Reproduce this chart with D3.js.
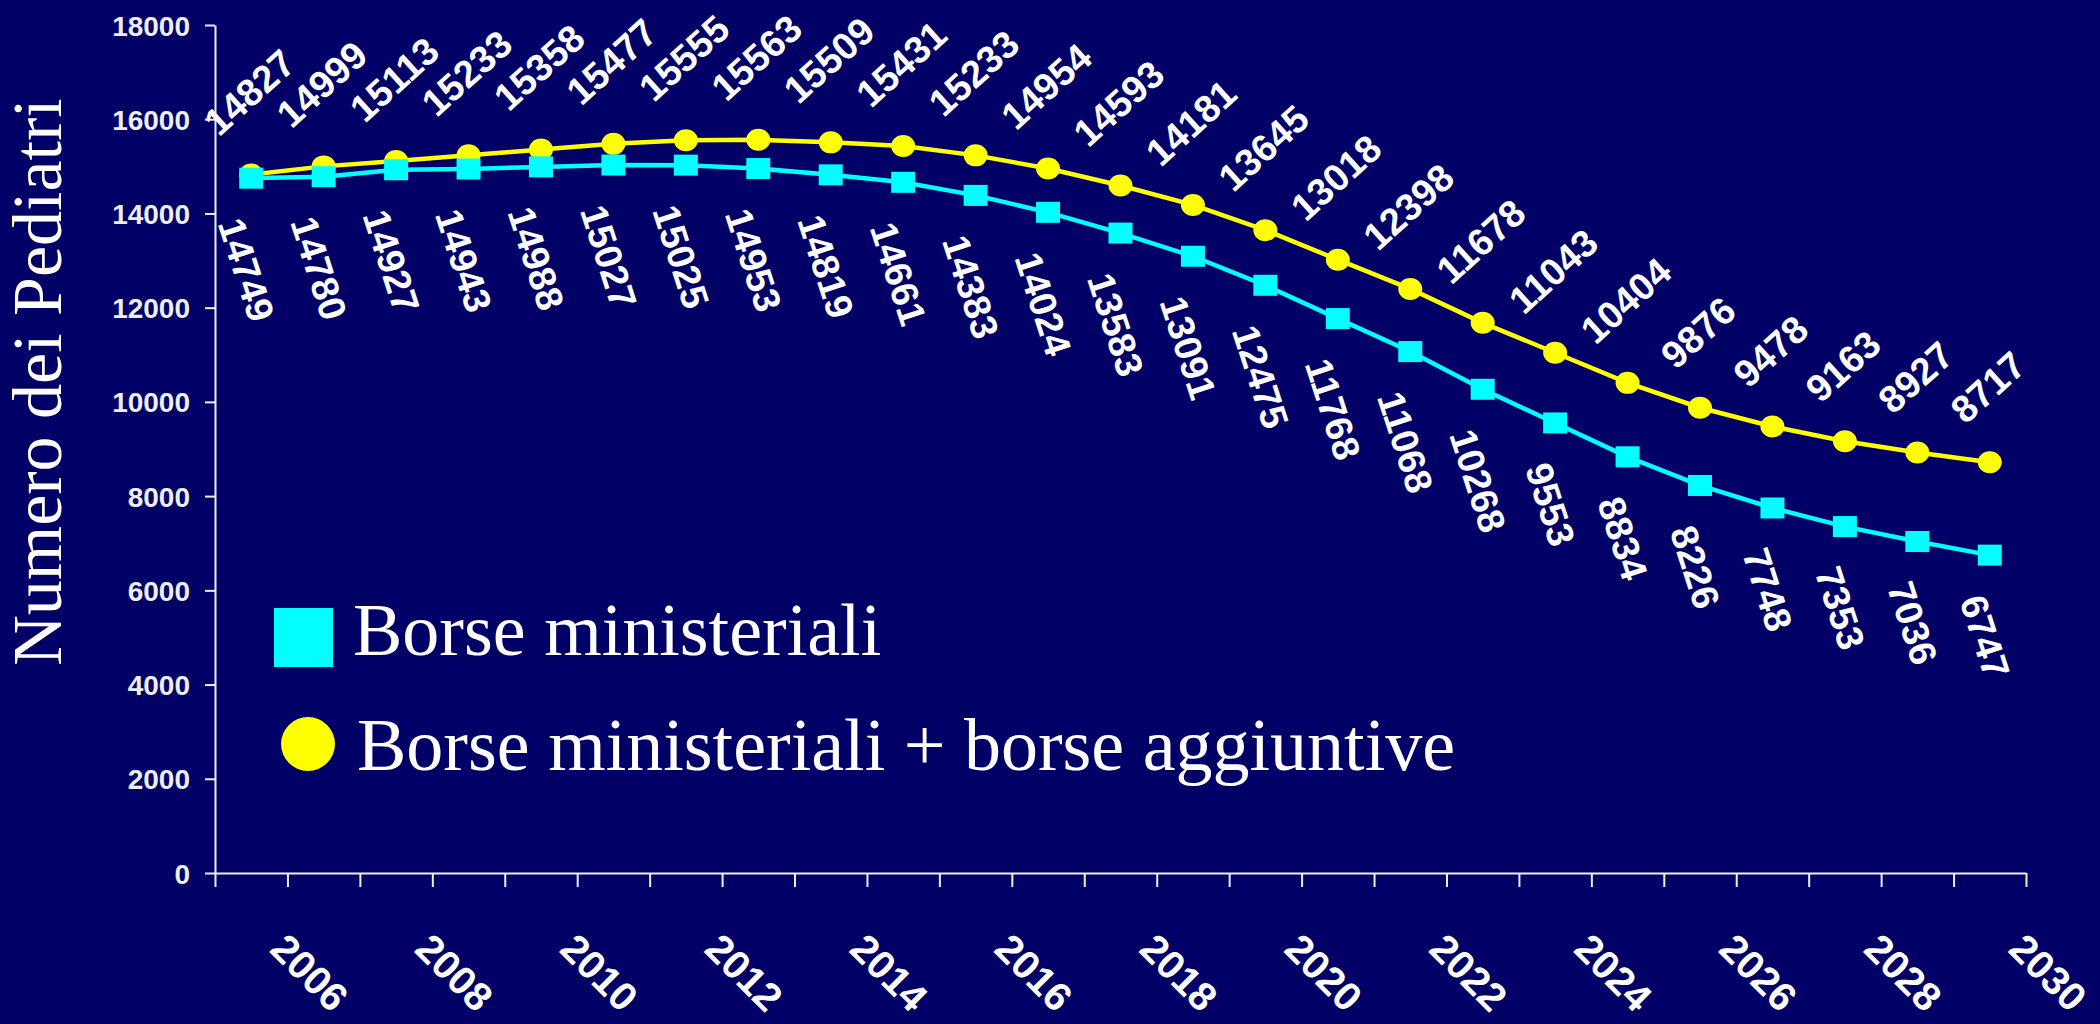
<!DOCTYPE html>
<html>
<head>
<meta charset="utf-8">
<script src="https://cdn.jsdelivr.net/npm/d3@7"></script>
<style>
  html, body { margin: 0; padding: 0; background: #000066; }
  svg { display: block; }
</style>
</head>
<body>
<svg id="chart" width="2100" height="1024"></svg>
<script>
// Anni della proiezione (categorie dell'asse x)
const years = ["2006","2007","2008","2009","2010","2011","2012","2013","2014","2015",
               "2016","2017","2018","2019","2020","2021","2022","2023","2024","2025",
               "2026","2027","2028","2029","2030"];

// Etichette mostrate sull'asse x (una ogni due anni)
const yearLabels = ["2006","2008","2010","2012","2014","2016","2018","2020","2022","2024","2026","2028","2030"];

// Borse ministeriali
const borseMinisteriali = [14749,14780,14927,14943,14988,15027,15025,14953,14819,14661,
                           14383,14024,13583,13091,12475,11768,11068,10268,9553,8834,
                           8226,7748,7353,7036,6747];

// Borse ministeriali + borse aggiuntive
const borseAggiuntive = [14827,14999,15113,15233,15358,15477,15555,15563,15509,15431,
                         15233,14954,14593,14181,13645,13018,12398,11678,11043,10404,
                         9876,9478,9163,8927,8717];

// Valori delle tacche dell'asse y
const yTicks = [0,2000,4000,6000,8000,10000,12000,14000,16000,18000];

const seriesNames = ["Borse ministeriali", "Borse ministeriali + borse aggiuntive"];

const BG = "#000066", CYAN = "#00FFFF", YELLOW = "#FFFF00", AXIS = "#EEEEEE";
const SANS = "'Liberation Sans', Arial, sans-serif";
const SERIF = "'Liberation Serif', 'Times New Roman', serif";

const svg = d3.select("#chart");
svg.append("rect").attr("width", 2100).attr("height", 1024).attr("fill", BG);

const plotLeft = 215, plotRight = 2026, plotTop = 25, plotBottom = 873;

const x = d3.scaleBand().domain(years).range([plotLeft, plotRight]).paddingInner(0).paddingOuter(0);
const cx = d => x(d) + x.bandwidth() / 2;
const y = d3.scaleLinear().domain([0, 18000]).range([plotBottom, plotTop]);

// Asse y
const yAxis = svg.append("g")
  .attr("transform", `translate(${plotLeft},0)`)
  .call(d3.axisLeft(y).tickValues(yTicks).tickSize(10).tickSizeOuter(0).tickPadding(15).tickFormat(d3.format("d")));
yAxis.select(".domain").attr("stroke", AXIS).attr("stroke-width", 2);
yAxis.selectAll(".tick line").attr("stroke", AXIS).attr("stroke-width", 2);
yAxis.selectAll(".tick text")
  .attr("fill", AXIS).attr("font-family", SANS).attr("font-weight", "bold")
  .attr("font-size", 28).attr("dy", "0.36em");

// Asse x: tacche ai confini delle categorie
const xb = d3.scaleLinear().domain([0, years.length]).range([plotLeft, plotRight]);
const xAxis = svg.append("g")
  .attr("transform", `translate(0,${plotBottom})`)
  .call(d3.axisBottom(xb).tickValues(d3.range(years.length + 1)).tickSize(14).tickSizeOuter(0).tickFormat(""));
xAxis.select(".domain").attr("stroke", AXIS).attr("stroke-width", 2);
xAxis.selectAll(".tick line").attr("stroke", AXIS).attr("stroke-width", 2);

// Etichette dell'asse x, ruotate di 45°
svg.append("g").selectAll("text").data(yearLabels).join("text")
  .attr("transform", d => `translate(${cx(d) + 17},${plotBottom + 78}) rotate(45)`)
  .attr("fill", "#FFFFFF").attr("font-family", SANS).attr("font-weight", "bold")
  .attr("font-size", 40).text(d => d);

// Titolo dell'asse y
svg.append("text")
  .attr("transform", `translate(61,382) rotate(-90)`)
  .attr("text-anchor", "middle")
  .attr("fill", "#FFFFFF").attr("font-family", SERIF).attr("font-size", 70)
  .text("Numero dei Pediatri");

const line = d3.line().x((d, i) => cx(years[i])).y(d => y(d));

// Etichette dei valori: ruotate attorno al proprio centro, sopra o sotto il marcatore
function labels(values, angle, place) {
  const F = 38, H = 0.716 * F;
  const g = svg.append("g");
  g.selectAll("text").data(values).join("text")
    .attr("fill", "#FFFFFF").attr("font-family", SANS).attr("font-weight", "bold")
    .attr("font-size", F).attr("text-anchor", "middle").attr("dy", (0.358 * F) + "px")
    .text(d => d)
    .attr("transform", function (d, i) {
      const L = this.getComputedTextLength();
      const a = Math.abs(angle) * Math.PI / 180;
      const bh = L * Math.sin(a) + H * Math.cos(a);
      const px = cx(years[i]), py = y(d);
      const c = place(px, py, bh);
      return `translate(${c[0]},${c[1]}) rotate(${angle})`;
    });
}

// Serie gialla: borse ministeriali + aggiuntive
svg.append("path").datum(borseAggiuntive)
  .attr("d", line).attr("fill", "none").attr("stroke", YELLOW).attr("stroke-width", 4.5);
svg.append("g").selectAll("ellipse").data(borseAggiuntive).join("ellipse")
  .attr("cx", (d, i) => cx(years[i])).attr("cy", d => y(d))
  .attr("rx", 12).attr("ry", 11).attr("fill", YELLOW);

// Serie azzurra: borse ministeriali
svg.append("path").datum(borseMinisteriali)
  .attr("d", line).attr("fill", "none").attr("stroke", CYAN).attr("stroke-width", 4.5);
svg.append("g").selectAll("rect").data(borseMinisteriali).join("rect")
  .attr("x", (d, i) => cx(years[i]) - 12).attr("y", d => y(d) - 10.5)
  .attr("width", 24).attr("height", 21).attr("fill", CYAN);

labels(borseAggiuntive, -42, (px, py, bh) => [px - 2, py - 37 - bh / 2]);
labels(borseMinisteriali, 72, (px, py, bh) => [px - 4.5, py + 37 + bh / 2]);

// Legenda
const legend = svg.append("g");
legend.append("rect").attr("x", 274).attr("y", 608).attr("width", 59).attr("height", 59).attr("fill", CYAN);
legend.append("circle").attr("cx", 308).attr("cy", 744).attr("r", 27).attr("fill", YELLOW);
legend.selectAll("text").data(seriesNames).join("text")
  .attr("x", (d, i) => i === 0 ? 353 : 357)
  .attr("y", (d, i) => i === 0 ? 655 : 770)
  .attr("fill", "#FFFFFF").attr("font-family", SERIF).attr("font-size", 74)
  .text(d => d);
</script>
</body>
</html>
